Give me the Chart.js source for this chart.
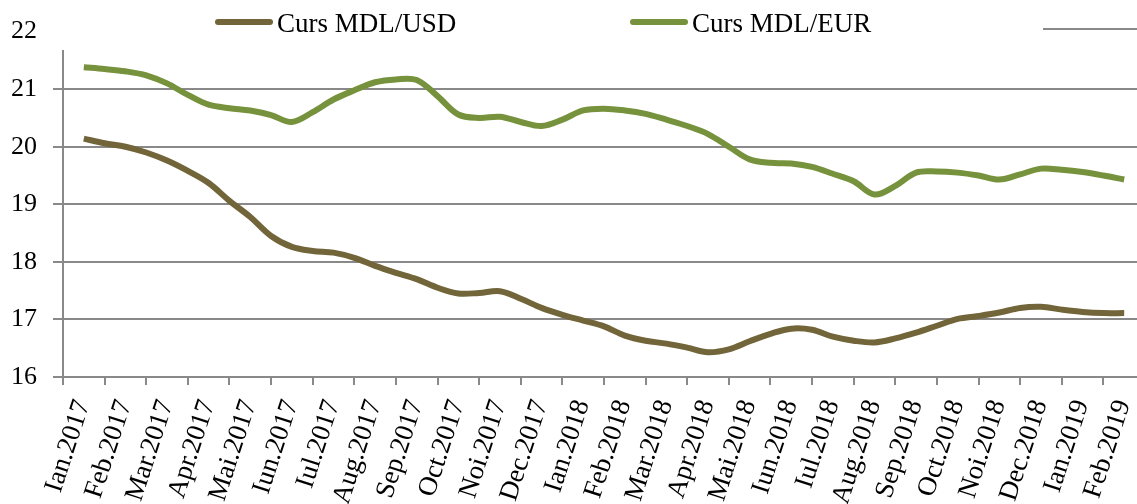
<!DOCTYPE html>
<html>
<head>
<meta charset="utf-8">
<script src="https://cdn.jsdelivr.net/npm/chart.js@4.4.0/dist/chart.umd.min.js"></script>
<style>
  html, body { margin: 0; padding: 0; background: #fff; overflow: hidden; }
  #wrap { width: 1150px; height: 504px; }
</style>
</head>
<body>
<div id="wrap"><canvas id="curs" width="1150" height="504"></canvas></div>
<script>
// month labels on the x axis
var monthLabels = ['Ian.2017','Feb.2017','Mar.2017','Apr.2017','Mai.2017','Iun.2017','Iul.2017','Aug.2017','Sep.2017','Oct.2017','Noi.2017','Dec.2017',
                   'Ian.2018','Feb.2018','Mar.2018','Apr.2018','Mai.2018','Iun.2018','Iul.2018','Aug.2018','Sep.2018','Oct.2018','Noi.2018','Dec.2018',
                   'Ian.2019','Feb.2019'];

// half-month readings, MDL per USD
var usdValues = [20.14,20.06,20.00,19.90,19.76,19.58,19.37,19.06,18.78,18.45,18.26,18.19,18.16,18.07,17.93,17.81,17.70,17.55,17.45,17.46,
                 17.49,17.36,17.20,17.08,16.98,16.88,16.72,16.63,16.58,16.51,16.43,16.48,16.62,16.75,16.84,16.82,16.70,16.63,16.60,16.67,
                 16.77,16.89,17.01,17.06,17.12,17.20,17.22,17.17,17.13,17.11,17.11];

// half-month readings, MDL per EUR
var eurValues = [21.38,21.35,21.31,21.24,21.10,20.90,20.73,20.67,20.63,20.55,20.43,20.60,20.82,20.98,21.12,21.17,21.16,20.88,20.56,20.50,
                 20.52,20.43,20.36,20.47,20.63,20.66,20.63,20.57,20.47,20.36,20.22,20.00,19.78,19.72,19.71,19.65,19.53,19.40,19.17,19.32,
                 19.55,19.57,19.55,19.50,19.43,19.52,19.62,19.60,19.56,19.50,19.43];

var yTicks = [16, 17, 18, 19, 20, 21, 22];

// position of each reading, in months from the start of Ian.2017
var pointMonths = usdValues.map(function(v, i) { return 0.5 + i * 0.5; });

function toPoints(vals) {
    return vals.map(function(v, i) { return {x: pointMonths[i], y: v}; });
}

var gridGray = '#898989';
var tickFont = {family: '"Liberation Serif", serif', size: 26};

// Excel style legend box laid over the top of the plot
var legendSpots = [{x: 218, y: 22, w: 6, len: 52}, {x: 633, y: 22, w: 6, len: 52}, {x: 1043, y: 29, w: 2, len: 110}];
var topLegend = {
    id: 'topLegend',
    afterDraw: function(chart) {
        var ctx = chart.ctx;
        ctx.save();
        ctx.fillStyle = '#fff';
        ctx.fillRect(48, 0, chart.width, 50);
        chart.data.datasets.forEach(function(ds, i) {
            var s = legendSpots[i];
            ctx.strokeStyle = ds.borderColor;
            ctx.lineWidth = s.w;
            ctx.lineCap = s.w > 3 ? 'round' : 'butt';
            ctx.beginPath();
            ctx.moveTo(s.x, s.y);
            ctx.lineTo(s.x + s.len, s.y);
            ctx.stroke();
            ctx.fillStyle = '#000';
            ctx.font = '27px "Liberation Serif", serif';
            ctx.textBaseline = 'alphabetic';
            ctx.fillText(ds.label, s.x + 59, 32);
        });
        ctx.restore();
    }
};

new Chart(document.getElementById('curs'), {
    type: 'line',
    data: {
        datasets: [{
            label: 'Curs MDL/USD',
            data: toPoints(usdValues),
            borderColor: '#716539',
            borderWidth: 6,
            pointRadius: 0,
            tension: 0.35,
            fill: false
        }, {
            label: 'Curs MDL/EUR',
            data: toPoints(eurValues),
            borderColor: '#76923C',
            borderWidth: 6,
            pointRadius: 0,
            tension: 0.35,
            fill: false
        }, {
            label: '',
            data: [],
            borderColor: gridGray,
            borderWidth: 2,
            pointRadius: 0
        }]
    },
    options: {
        responsive: false,
        animation: false,
        layout: {padding: {left: 0, right: 5, top: 30, bottom: 0}},
        plugins: {legend: {display: false}, tooltip: {enabled: false}},
        scales: {
            x: {
                type: 'linear',
                min: 0,
                max: monthLabels.length,
                afterBuildTicks: function(axis) {
                    axis.ticks = monthLabels.concat(['']).map(function(l, i) { return {value: i}; });
                },
                afterFit: function(axis) {
                    axis.paddingLeft = 0;
                    axis.paddingRight = 0;
                    axis.height = 127;
                },
                grid: {drawOnChartArea: false, color: gridGray, lineWidth: 2, tickLength: 8},
                border: {color: gridGray, width: 2},
                ticks: {
                    autoSkip: false,
                    minRotation: 72,
                    maxRotation: 72,
                    labelOffset: 20,
                    padding: 11,
                    color: '#000',
                    font: {family: '"Liberation Serif", serif', size: 27},
                    callback: function(v) { return monthLabels[v] || ''; }
                }
            },
            y: {
                min: yTicks[0],
                max: yTicks[yTicks.length - 1],
                afterBuildTicks: function(axis) {
                    axis.ticks = yTicks.map(function(v) { return {value: v}; });
                },
                afterFit: function(axis) {
                    axis.width = 63;
                },
                grid: {color: gridGray, lineWidth: 2, tickLength: 10},
                border: {color: gridGray, width: 2},
                ticks: {padding: 16, color: '#000', font: tickFont}
            }
        }
    },
    plugins: [topLegend]
});
</script>
</body>
</html>
